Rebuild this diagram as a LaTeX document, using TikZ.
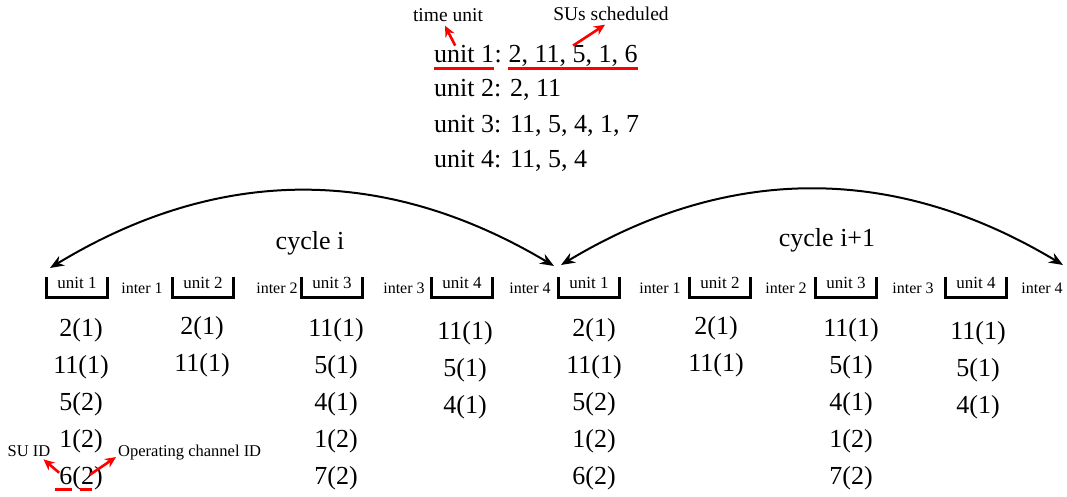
\documentclass[tikz,border=0pt]{standalone}
\usepackage{fontspec}
\setmainfont{Liberation Serif}
\usetikzlibrary{arrows.meta,positioning,calc}

\begin{document}
\begin{tikzpicture}[x=1pt, y=1pt,
    big/.style={font=\fontsize{26}{30}\selectfont, inner sep=0pt},
    mid/.style={font=\fontsize{19.5}{23}\selectfont},
    note/.style={font=\fontsize{16.5}{20}\selectfont, inner sep=2pt},
    slot/.style={font=\fontsize{17}{20}\selectfont, inner sep=0pt, minimum width=61pt,
                 text height=12pt, text depth=8.5pt, anchor=base},
    gap/.style={font=\fontsize{16}{19}\selectfont, inner sep=0pt, anchor=base},
    brk/.style={line width=2.8pt, line join=miter},
    cyc/.style={{Stealth[length=14pt,width=11pt]}-{Stealth[length=14pt,width=11pt]},
                line width=2pt, bend left=31},
    hl/.style={red, line width=3pt},
    ptr/.style={-{Stealth[length=11pt,width=10pt]}, red, line width=2.6pt},
  ]
  \useasboundingbox (0,0) rectangle (1067,497);

  % Schedule of each time unit
  \node[big, anchor=base west, text depth=5pt] (key) at (434,434) {unit 1};
  \node[big, anchor=base west, text depth=5pt] (colon) at (key.base east) {:};
  \node[big, anchor=base west, text depth=5pt] (ids) at ($(colon.base east)+(6.5,0)$) {2, 11, 5, 1, 6};
  \node[big, anchor=base west] (l2) at (434,400) {unit 2: 2, 11};
  \node[big, anchor=base west] (l3) at (434,364) {unit 3: 11, 5, 4, 1, 7};
  \node[big, anchor=base west] (l4) at (434,329) {unit 4: 11, 5, 4};

  \draw[hl] (key.south west) -- (key.south east);
  \draw[hl] (ids.south west) -- (ids.south east);

  \node[mid, anchor=base] (tu)  at (448,475) {time unit};
  \node[mid, anchor=base] (sus) at (611,476) {SUs scheduled};
  \draw[ptr] ([xshift=-9pt]key.north) -- ([xshift=-3pt]tu.south);
  \draw[ptr] (ids.north) -- ([xshift=-6pt]sus.south);

  % Cycles
  \coordinate (a0) at (50,229);
  \coordinate (a1) at (554,231);
  \coordinate (b0) at (561,232);
  \coordinate (b1) at (1063,232);
  \draw[cyc] (a0) to (a1);
  \draw[cyc] (b0) to (b1);
  \node[big, anchor=base] (cyc1) at (310,247) {cycle i};
  \node[big, anchor=base] (cyc2) at (827,250) {cycle i+1};

  % Units and intervals
  \foreach \x/\n [count=\i] in {77/1,203/2,332/3,462/4,589/1,720/2,846/3,976/4} {
    \node[slot] (s\i) at (\x,208) {unit \n};
    \draw[brk] (s\i.north west) |- (s\i.south east) -- (s\i.north east);
  }
  \foreach \x/\n [count=\i] in {142/1,277/2,404/3,530/4,660/1,786/2,913/3,1042/4}
    \node[gap] (g\i) at (\x,203) {inter \n};

  % SU(channel) lists
  \foreach \x/\dy/\ids [count=\c] in {
      81/0/{2(1),11(1),5(2),1(2),6(2)}, 202/2/{2(1),11(1)},
      336/0/{11(1),5(1),4(1),1(2),7(2)}, 465/-3/{11(1),5(1),4(1)},
      594/0/{2(1),11(1),5(2),1(2),6(2)}, 716/2/{2(1),11(1)},
      851/0/{11(1),5(1),4(1),1(2),7(2)}, 978/-3/{11(1),5(1),4(1)}} {
    \foreach \t [count=\r] in \ids
      \node[big, anchor=base] (v\c-\r) at (\x,{160-37*(\r-1)+\dy}) {\t};
  }

  % Legend on 6(2)
  \draw[hl] ([shift={(-4,-5)}]v1-5.base west) -- ([shift={(13,-5)}]v1-5.base west);
  \draw[hl] ([shift={(21,-5)}]v1-5.base west) -- ([shift={(33,-5)}]v1-5.base west);
  \node[note, anchor=base] (suid) at (29,40) {SU ID};
  \node[note, anchor=base west] (opch) at (116,40) {Operating channel ID};
  \draw[ptr] ([yshift=-6pt]v1-5.north west) -- ([xshift=-9pt]suid.south east);
  \draw[ptr] ([shift={(-13,-8)}]v1-5.north east) -- ([yshift=-4pt]opch.west);
\end{tikzpicture}
\end{document}
